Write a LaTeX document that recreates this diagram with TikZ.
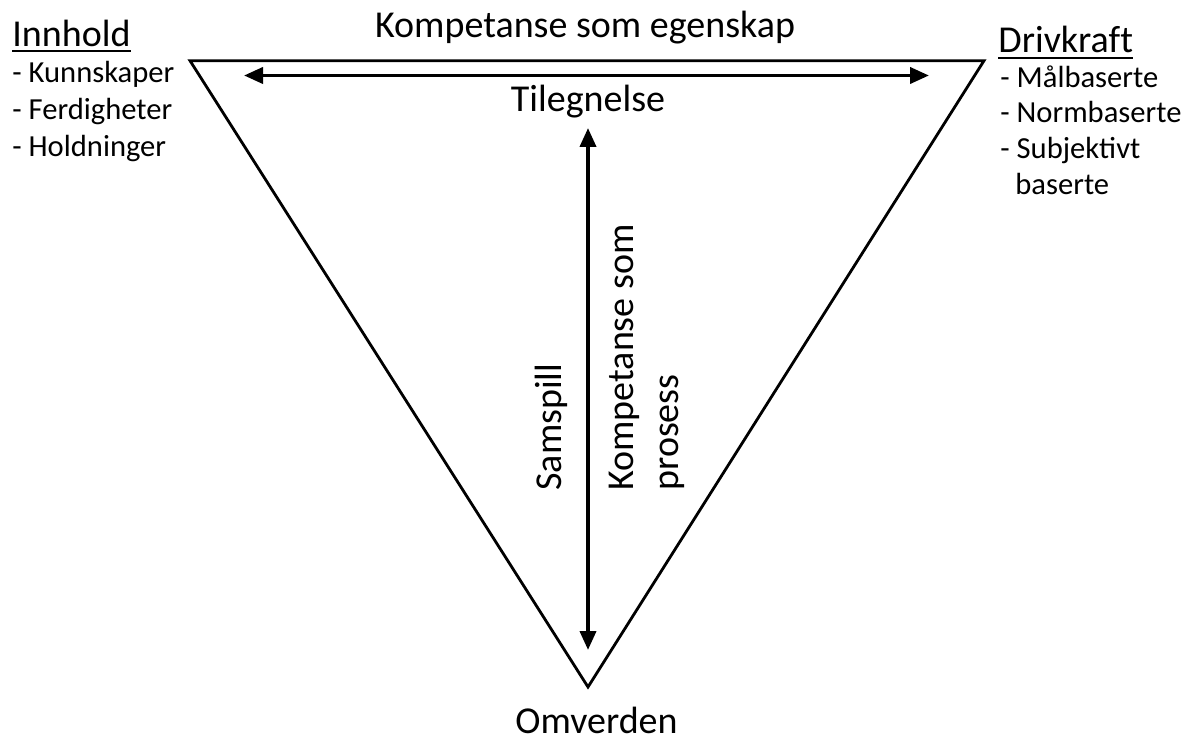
\documentclass[tikz,border=0pt]{standalone}
\usepackage{fontspec}
\setmainfont{Carlito}
\usetikzlibrary{arrows.meta}
\begin{document}
\begin{tikzpicture}[x=0.5pt,y=-0.5pt,
  big/.style={inner sep=0pt,font=\fontsize{19}{22.5}\selectfont},
  small/.style={inner sep=0pt,anchor=base west,font=\fontsize{15.3}{18}\selectfont},
  tri/.style={line width=1.4pt,line join=miter},
  dblarrow/.style={line width=1.9pt,{Triangle[length=9.5pt,width=8pt]}-{Triangle[length=9.5pt,width=8pt]}},
  uline/.style={line width=1pt}]
\useasboundingbox (0,0) rectangle (1192,742);
% triangle vertices
\coordinate (tl) at (190,60.7);
\coordinate (tr) at (984,60.7);
\coordinate (bt) at (588,687);
\draw[tri] (tl) -- (tr) -- (bt) -- cycle;
% arrow ends
\coordinate (hl) at (244,75.5);
\coordinate (hr) at (929,75.5);
\coordinate (vt) at (588,128);
\coordinate (vb) at (588,650);
\draw[dblarrow] (hl) -- (hr);
\draw[dblarrow] (vt) -- (vb);
% labels
\node[big,anchor=base] (title) at (585,37.5) {Kompetanse som egenskap};
\node[big,anchor=base] (tileg) at (588,112) {Tilegnelse};
\node[big,anchor=base] (omv) at (596.5,733) {Omverden};
\node[big,anchor=base west,rotate=90] (samsp) at (561,491) {Samspill};
\node[big,anchor=base west,rotate=90,align=left] (kpros) at (678,491) {Kompetanse som\\prosess};
% left list
\node[big,anchor=base west] (innh) at (12,47) {Innhold};
\draw[uline] ([yshift=-2.2pt]innh.base west) -- ([yshift=-2.2pt]innh.base east);
\node[small] (k1) at (12,83) {- Kunnskaper};
\node[small] (k2) at (12,120) {- Ferdigheter};
\node[small] (k3) at (12,157) {- Holdninger};
% right list
\node[big,anchor=base west,font=\fontsize{19}{22.5}\selectfont\addfontfeatures{Ligatures=CommonOff}] (driv) at (998,53) {Drivkraft};
\draw[uline] ([yshift=-2.5pt]driv.base west) -- ([yshift=-2.5pt]driv.base east);
\node[small] (d1) at (1000,88) {- Målbaserte};
\node[small] (d2) at (1000,123) {- Normbaserte};
\node[small] (d3) at (1000,159) {- Subjektivt};
\node[small] (d4) at (1015,195) {baserte};
\end{tikzpicture}
\end{document}
